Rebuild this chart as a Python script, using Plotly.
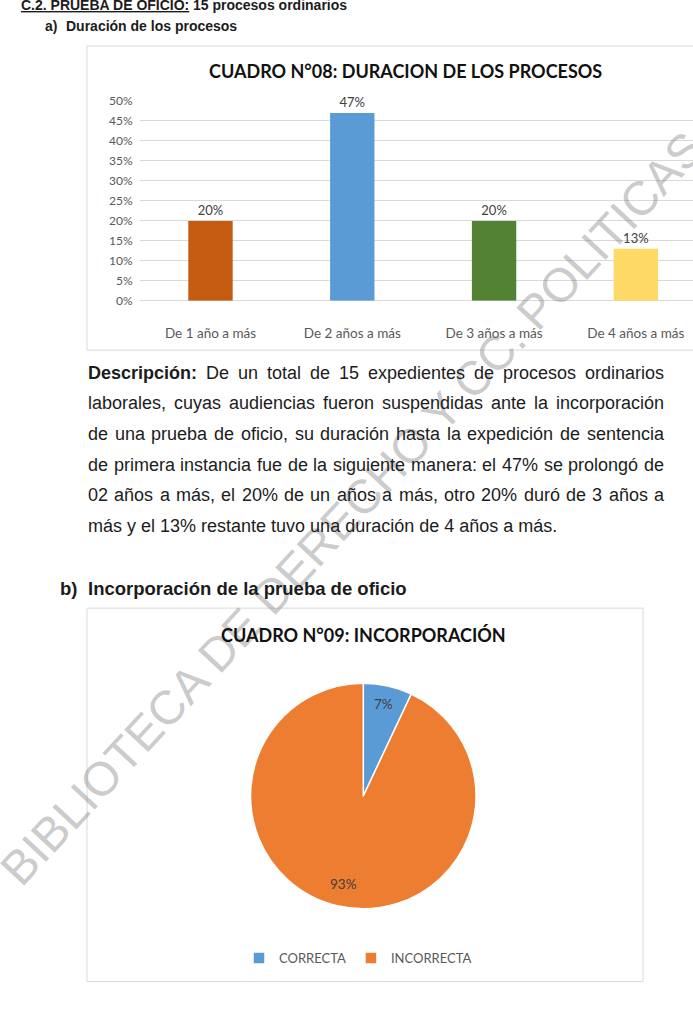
import math
import plotly.graph_objects as go

W, H = 693, 1009

# ---------------- data ----------------
dur_categories = ["De 1 año a más", "De 2 años a más", "De 3 años a más", "De 4 años a más"]
dur_values = [20, 47, 20, 13]
dur_colors = ["#C55A11", "#5B9BD5", "#548235", "#FFD966"]

y_tick_values = [0, 5, 10, 15, 20, 25, 30, 35, 40, 45, 50]
y_tick_labels = ["0%", "5%", "10%", "15%", "20%", "25%", "30%", "35%", "40%", "45%", "50%"]

inc_labels = ["CORRECTA", "INCORRECTA"]
inc_values = [7, 93]
inc_colors = ["#5B9BD5", "#ED7D31"]

bar_title = "CUADRO N°08: DURACION DE LOS PROCESOS"
pie_title = "CUADRO N°09: INCORPORACIÓN"

para_lines = [
    [("Descripción:", True), "De", "un", "total", "de", "15", "expedientes", "de", "procesos", "ordinarios"],
    "laborales, cuyas audiencias fueron suspendidas ante la incorporación".split(),
    "de una prueba de oficio, su duración hasta la expedición de sentencia".split(),
    "de primera instancia fue de la siguiente manera: el 47% se prolongó de".split(),
    "02 años a más, el 20% de un años a más, otro 20% duró de 3 años a".split(),
]
para_last = "más y el 13% restante tuvo una duración de 4 años a más."
watermark = "BIBLIOTECA DE DERECHO Y CC. POLITICAS"

# vertical calibration of page pixels -> figure pixels
V_OFF, V_SCALE = 7.0, 0.9857


def px(x):
    return x / W


def fy(y):
    return (y - V_OFF) / V_SCALE


def py(y):
    return 1 - fy(y) / H


# Arial / Liberation Sans advance widths (1/1000 em)
REG = {' ': 278, ',': 278, '.': 278, ':': 278, '%': 889, 'D': 722,
       'a': 556, 'b': 556, 'c': 500, 'd': 556, 'e': 556, 'f': 278, 'g': 556, 'h': 556,
       'i': 222, 'j': 222, 'k': 500, 'l': 222, 'm': 833, 'n': 556, 'o': 556, 'p': 556,
       'q': 556, 'r': 333, 's': 500, 't': 278, 'u': 556, 'v': 500, 'w': 722, 'x': 500,
       'y': 500, 'z': 500, 'á': 556, 'é': 556, 'í': 278, 'ó': 556, 'ú': 556, 'ñ': 556}
for d in "0123456789":
    REG[d] = 556
BOLD = {' ': 278, ':': 333, '.': 278, 'D': 722, 'e': 556, 's': 556, 'c': 556, 'r': 389, 'i': 278,
        'p': 611, 'ó': 611, 'n': 611, 'C': 722, 'P': 667, 'R': 722, 'U': 722, 'E': 667,
        'B': 722, 'A': 722, 'O': 778, 'F': 611, 'I': 278, '2': 556}


def tw(s, size, bold=False):
    t = BOLD if bold else REG
    return sum(t.get(ch, 556) for ch in s) / 1000 * size


SANS = "Liberation Sans, Arial, sans-serif"
CHART = "Lato, Carlito, Calibri, sans-serif"
TXT = "#1c1c1c"

fig = go.Figure()

fig.add_trace(go.Bar(
    x=dur_categories, y=dur_values,
    marker=dict(color=dur_colors, line=dict(width=0)),
    width=0.313,
    text=[f"{v}%" for v in dur_values], textposition="outside",
    textfont=dict(family=CHART, size=13, color="#404040"),
    cliponaxis=False, showlegend=False, hoverinfo="skip",
))

pie_x = [250.5, 476.1]
pie_y = [682.7, 908.3]
fig.add_trace(go.Pie(
    labels=inc_labels, values=inc_values,
    marker=dict(colors=inc_colors, line=dict(color="white", width=1.5)),
    sort=False, direction="clockwise", rotation=0,
    textinfo="none",
    domain=dict(x=[px(pie_x[0]), px(pie_x[1])], y=[py(pie_y[1]), py(pie_y[0])]),
    showlegend=True, hoverinfo="skip",
))

ann = []
# watermark first (drawn beneath the other texts)
ann.append(dict(text=watermark, x=px(352), y=py(508), xref="paper", yref="paper",
                showarrow=False, textangle=-47.1, xanchor="center", yanchor="middle",
                font=dict(family=SANS, size=47.5, color="rgba(120,120,120,0.40)")))

# headings
HS = 14
part1 = "C.2. PRUEBA DE OFICIO:"
ann.append(dict(text=f"<b>{part1}</b>", x=px(20.7), y=py(4), xref="paper", yref="paper",
                showarrow=False, xanchor="left", yanchor="middle", borderpad=0, borderwidth=0,
                font=dict(family=SANS, size=HS, color=TXT, lineposition="under")))
ann.append(dict(text="<b>15 procesos ordinarios</b>", x=px(20.7 + tw(part1 + " ", HS, True)), y=py(4),
                xref="paper", yref="paper",
                showarrow=False, xanchor="left", yanchor="middle", borderpad=0, borderwidth=0,
                font=dict(family=SANS, size=HS, color=TXT)))
ann.append(dict(text="<b>a)</b>", x=px(45), y=py(25.5), xref="paper", yref="paper",
                showarrow=False, xanchor="left", yanchor="middle", borderpad=0, borderwidth=0,
                font=dict(family=SANS, size=HS, color=TXT)))
ann.append(dict(text="<b>Duración de los procesos</b>", x=px(66), y=py(25.5), xref="paper", yref="paper",
                showarrow=False, xanchor="left", yanchor="middle", borderpad=0, borderwidth=0,
                font=dict(family=SANS, size=HS, color=TXT)))
ann.append(dict(text="<b>b)</b>", x=px(60), y=py(587.7), xref="paper", yref="paper",
                showarrow=False, xanchor="left", yanchor="middle", borderpad=0, borderwidth=0,
                font=dict(family=SANS, size=18.5, color=TXT)))
ann.append(dict(text="<b>Incorporación de la prueba de oficio</b>", x=px(88), y=py(587.7),
                xref="paper", yref="paper",
                showarrow=False, xanchor="left", yanchor="middle", borderpad=0, borderwidth=0,
                font=dict(family=SANS, size=18.5, color=TXT)))

# justified paragraph
FS = 18
LEFT, RIGHT = 88, 664
line_y = [372, 402.6, 433.2, 463.8, 494.4, 525]
for li, words in enumerate(para_lines):
    items = [(w, False) if isinstance(w, str) else w for w in words]
    widths = [tw(w, FS, b) for w, b in items]
    gap = (RIGHT - LEFT - sum(widths)) / (len(items) - 1)
    x = LEFT
    for (w, b), wd in zip(items, widths):
        ann.append(dict(text=f"<b>{w}</b>" if b else w, x=px(x), y=py(line_y[li]),
                        xref="paper", yref="paper", showarrow=False,
                        xanchor="left", yanchor="middle", borderpad=0, borderwidth=0,
                        font=dict(family=SANS, size=FS, color=TXT)))
        x += wd + gap
ann.append(dict(text=para_last, x=px(LEFT), y=py(line_y[5]), xref="paper", yref="paper",
                showarrow=False, xanchor="left", yanchor="middle", borderpad=0, borderwidth=0,
                font=dict(family=SANS, size=FS, color=TXT)))

# chart titles
ann.append(dict(text=f"<b>{bar_title}</b>", x=px(405), y=py(70), xref="paper", yref="paper",
                showarrow=False, xanchor="center", yanchor="middle",
                font=dict(family=CHART, size=18, color="#111111")))
ann.append(dict(text=f"<b>{pie_title}</b>", x=px(363), y=py(634), xref="paper", yref="paper",
                showarrow=False, xanchor="center", yanchor="middle",
                font=dict(family=CHART, size=18, color="#111111")))

# pie data labels, placed along each slice's mid-angle (derived from the values)
cx = (pie_x[0] + pie_x[1]) / 2
cy = (pie_y[0] + pie_y[1]) / 2
rad = (pie_x[1] - pie_x[0]) / 2
label_r = [0.84, 0.80]
total = sum(inc_values)
cum = 0
for v, f in zip(inc_values, label_r):
    mid = math.radians((cum + v / 2) / total * 360)
    cum += v
    lx = cx + f * rad * math.sin(mid)
    ly = cy - f * rad * math.cos(mid)
    ann.append(dict(text=f"{v}%", x=px(lx), y=py(ly), xref="paper", yref="paper",
                    showarrow=False, xanchor="center", yanchor="middle",
                    font=dict(family=CHART, size=13.5, color="#404040")))

shapes = [
    dict(type="rect", xref="paper", yref="paper", x0=px(87), x1=px(720), y0=py(349.3), y1=py(45),
         line=dict(color="#D9D9D9", width=1), layer="below"),
    dict(type="rect", xref="paper", yref="paper", x0=px(87), x1=px(643), y0=py(981), y1=py(607.5),
         line=dict(color="#D9D9D9", width=1), layer="below"),
]

fig.update_layout(
    width=W, height=H, margin=dict(l=0, r=0, t=0, b=0),
    paper_bgcolor="white", plot_bgcolor="white",
    annotations=ann, shapes=shapes,
    xaxis=dict(domain=[px(139.6), 1.0], range=[-0.5, 3.403], type="category",
               showgrid=False, zeroline=False, showline=False, ticks="",
               tickfont=dict(family=CHART, size=13.5, color="#595959"),
               ticklabelstandoff=23, fixedrange=True),
    yaxis=dict(domain=[py(300), py(100)], range=[0, 50], tickvals=y_tick_values,
               ticktext=y_tick_labels, showgrid=True, gridcolor="#D9D9D9", gridwidth=1,
               zeroline=True, zerolinecolor="#D9D9D9", zerolinewidth=1, showline=False,
               ticks="", tickfont=dict(family=CHART, size=12, color="#595959"),
               ticklabelstandoff=6, fixedrange=True),
    legend=dict(orientation="h", x=px(358), xanchor="center", y=py(957.7), yanchor="middle",
                font=dict(family=CHART, size=13, color="#595959"), itemwidth=30,
                bgcolor="rgba(0,0,0,0)"),
)

fig.write_html("out.html")
